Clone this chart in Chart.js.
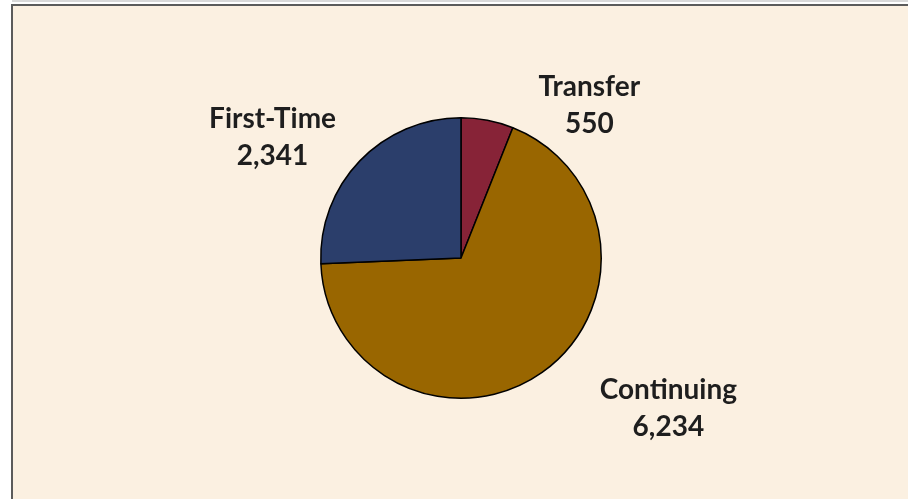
<!DOCTYPE html>
<html>
<head>
<meta charset="utf-8">
<script src="https://cdn.jsdelivr.net/npm/chart.js@4.4.1/dist/chart.umd.min.js"></script>
<style>
  html, body { margin: 0; padding: 0; background: #ffffff; overflow: hidden; }
  #topLine { position: absolute; left: 12px; top: 0; width: 900px; height: 2px; background: #d9d9d9; }
  #box {
    position: absolute; left: 11px; top: 4px; width: 920px; height: 520px;
    background: #fbf0e1; border-left: 2px solid #5b5b5b; border-top: 2px solid #5b5b5b;
  }
  #wrap { position: absolute; left: 0; top: 0; width: 908px; height: 499px; }
</style>
</head>
<body>
<div id="topLine"></div>
<div id="box"></div>
<div id="wrap"><canvas id="myChart"></canvas></div>
<script>
// datos del gráfico
const categorias = ['Transfer', 'Continuing', 'First-Time'];
const valores = [550, 6234, 2341];
const colores = ['#872337', '#996600', '#2b3e6b'];

// desplazamiento de cada etiqueta (grados respecto al centro del sector, distancia desde el borde)
const etiquetaAngulo = [29, -19, -11];
const etiquetaDistancia = [60, 115, 84];

const etiquetasPlugin = {
    id: 'etiquetas',
    afterDatasetsDraw(chart) {
        const ctx = chart.ctx;
        const meta = chart.getDatasetMeta(0);
        ctx.save();
        ctx.font = 'bold 28px Lato';
        ctx.fillStyle = '#1e1e1e';
        ctx.textAlign = 'center';
        ctx.textBaseline = 'middle';
        meta.data.forEach((arc, i) => {
            const p = arc.getProps(['x', 'y', 'startAngle', 'endAngle', 'outerRadius'], true);
            const ang = (p.startAngle + p.endAngle) / 2 + etiquetaAngulo[i] * Math.PI / 180;
            const r = p.outerRadius + etiquetaDistancia[i];
            const x = p.x + Math.cos(ang) * r;
            const y = p.y + Math.sin(ang) * r;
            ctx.fillText(categorias[i], x, y - 17);
            ctx.fillText(valores[i].toLocaleString('en-US'), x, y + 20);
        });
        ctx.restore();
    }
};

const config = {
    type: 'pie',
    data: {
        labels: categorias,
        datasets: [{
            data: valores,
            backgroundColor: colores,
            borderColor: '#000000',
            borderWidth: 1.5
        }]
    },
    options: {
        responsive: true,
        maintainAspectRatio: false,
        animation: false,
        layout: { padding: { left: 320, right: 306, top: 117, bottom: 100 } },
        plugins: {
            legend: { display: false },
            tooltip: { enabled: false }
        }
    },
    plugins: [etiquetasPlugin]
};

new Chart(document.getElementById('myChart').getContext('2d'), config);
</script>
</body>
</html>
